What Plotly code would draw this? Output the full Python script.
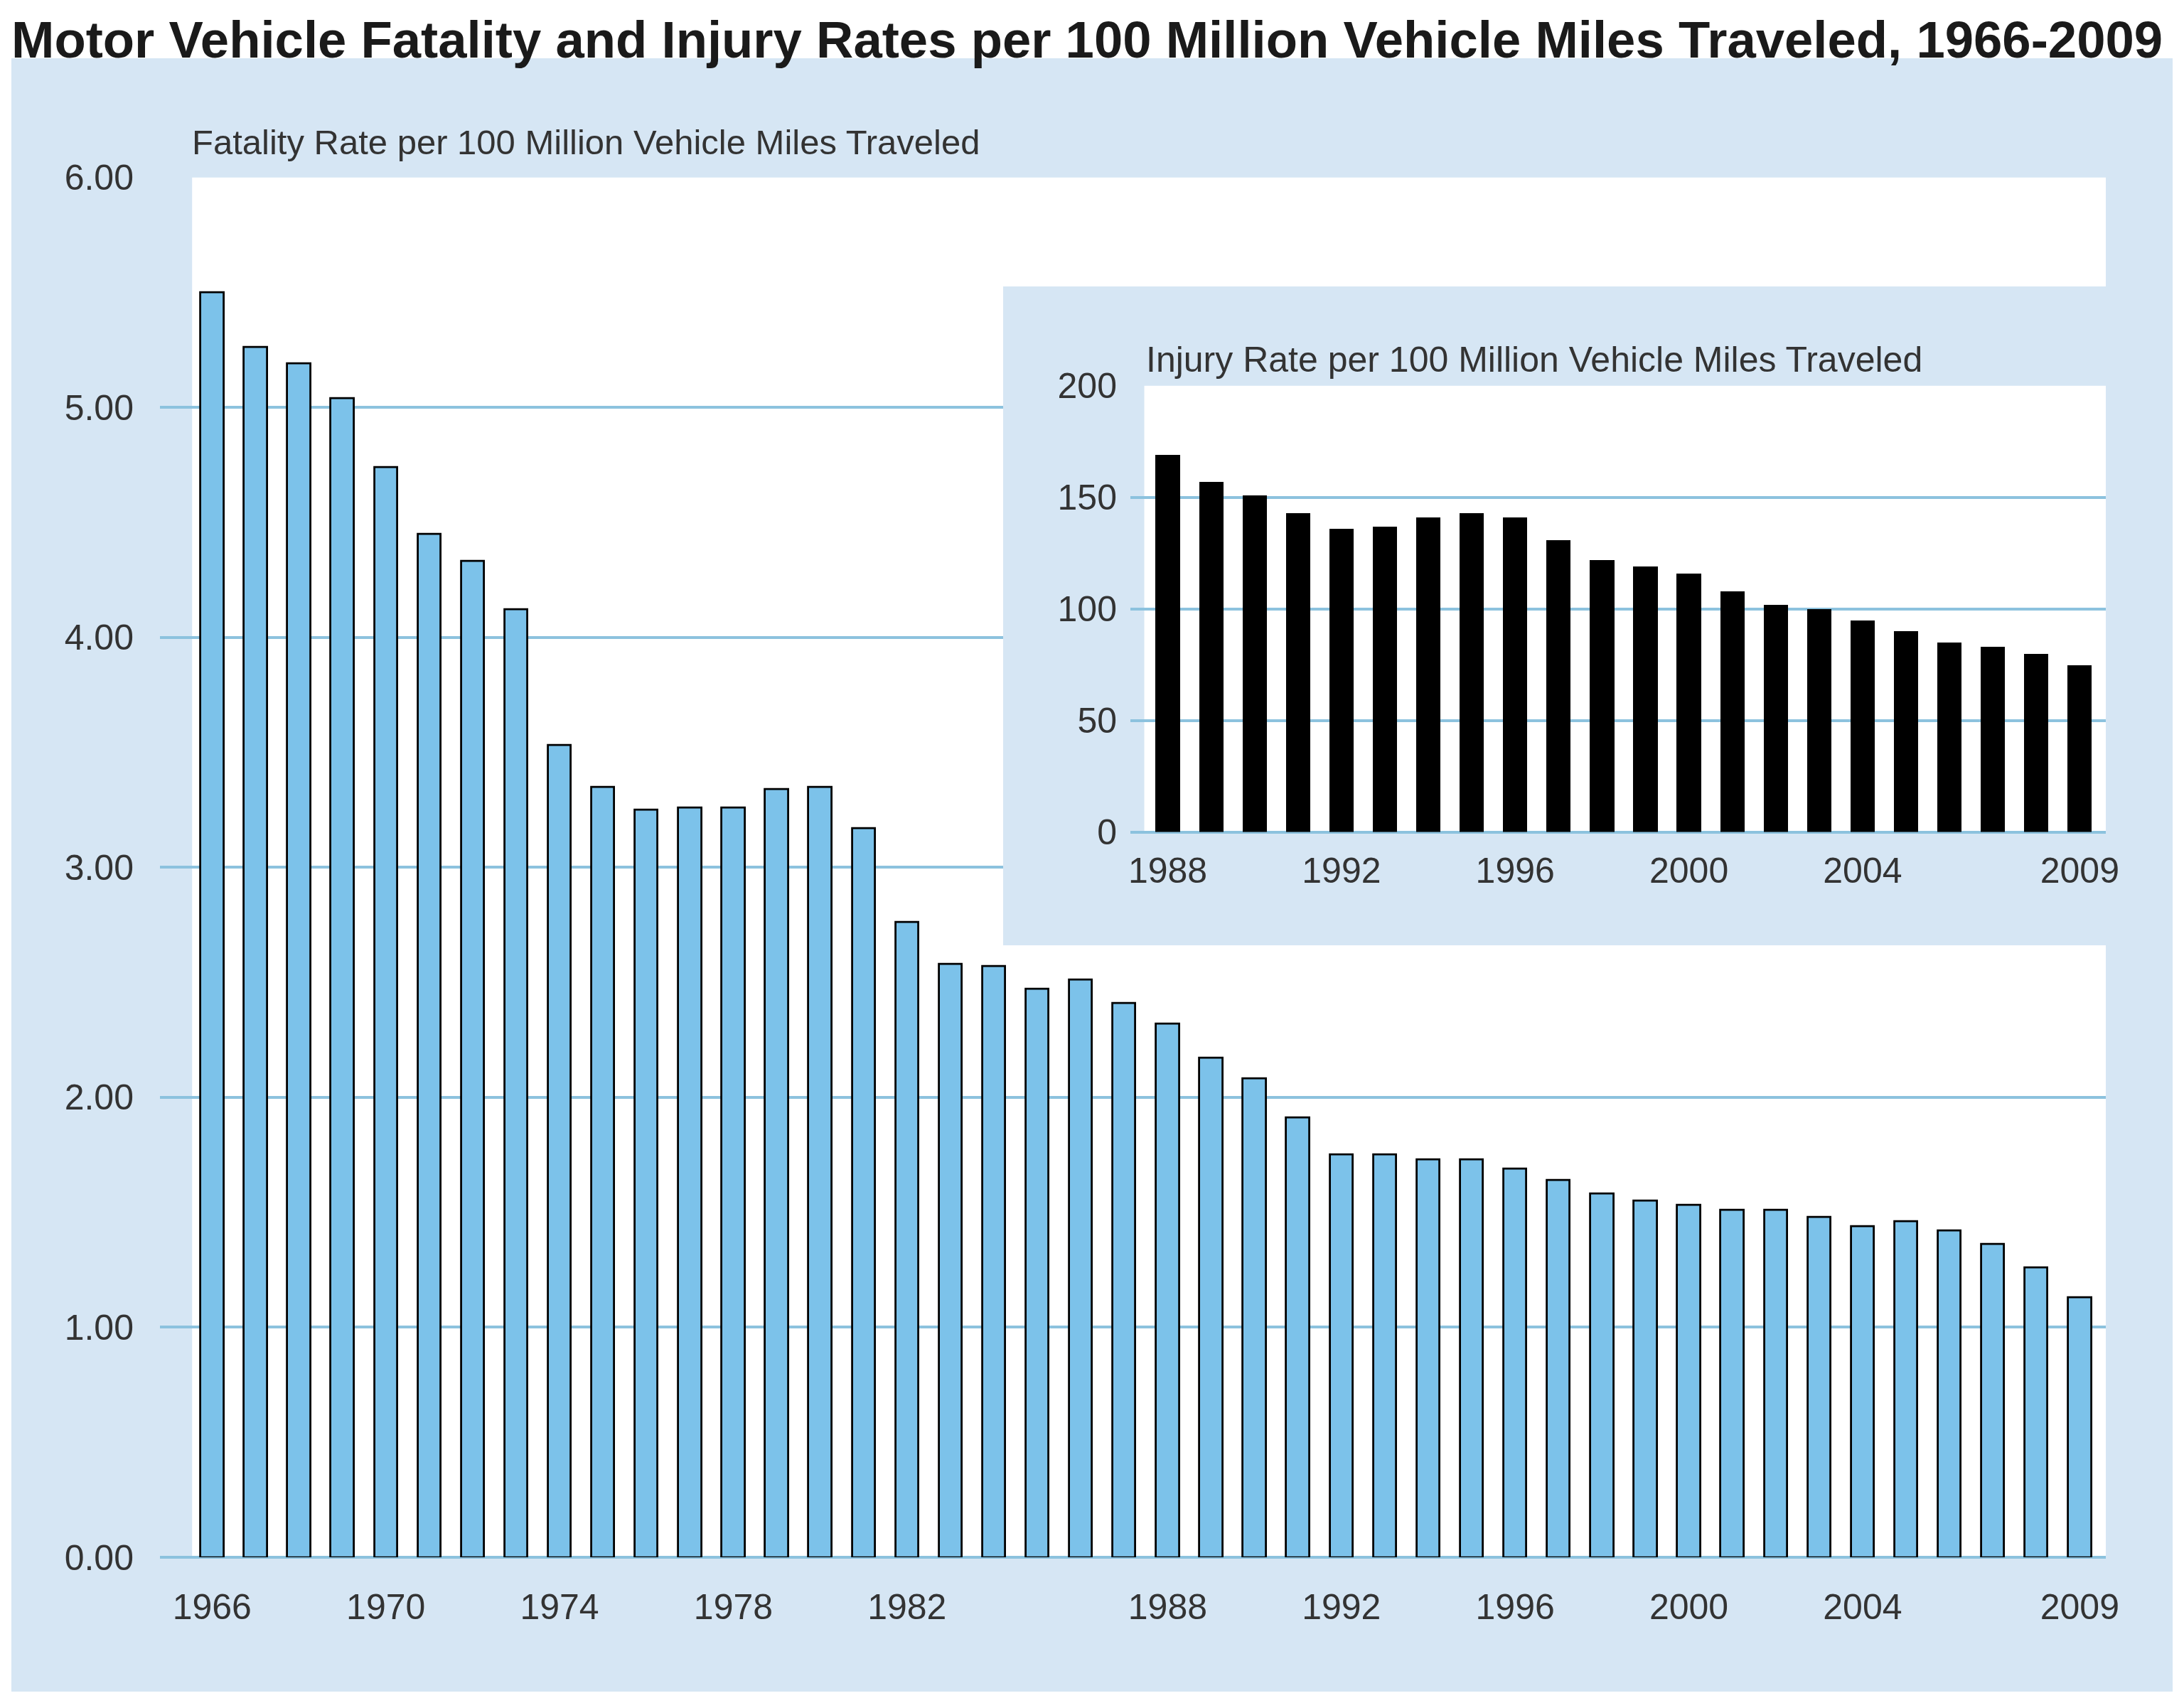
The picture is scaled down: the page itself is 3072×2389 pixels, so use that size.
# Motor vehicle fatality / injury rates chart with injury inset

import plotly.graph_objects as go

W = 3072
H = 2389
SHIFT = 8  # page margin of the html body

fatality_years = list(range(1966, 2010))
fatality_rate = [5.50, 5.26, 5.19, 5.04, 4.74, 4.45, 4.33, 4.12, 3.53, 3.35,
                 3.25, 3.26, 3.26, 3.34, 3.35, 3.17, 2.76, 2.58, 2.57, 2.47,
                 2.51, 2.41, 2.32, 2.17, 2.08, 1.91, 1.75, 1.75, 1.73, 1.73,
                 1.69, 1.64, 1.58, 1.55, 1.53, 1.51, 1.51, 1.48, 1.44, 1.46,
                 1.42, 1.36, 1.26, 1.13]

injury_years = list(range(1988, 2010))
injury_rate = [169, 157, 151, 143, 136, 137, 141, 143, 141, 131, 122,
               119, 116, 108, 102, 100, 95, 90, 85, 83, 80, 75]

main_xticks = [1966, 1970, 1974, 1978, 1982, 1988, 1992, 1996, 2000, 2004, 2009]
inset_xticks = [1988, 1992, 1996, 2000, 2004, 2009]
fatality_yticks = [0, 1, 2, 3, 4, 5, 6]
injury_yticks = [0, 50, 100, 150, 200]

title_text = "Motor Vehicle Fatality and Injury Rates per 100 Million Vehicle Miles Traveled, 1966-2009"
fatality_title = "Fatality Rate per 100 Million Vehicle Miles Traveled"
injury_title = "Injury Rate per 100 Million Vehicle Miles Traveled"

# colours
panel_col = "#d6e6f4"
grid_col = "#8cc2de"
bar_col = "#7cc2ea"
text_col = "#333333"
font_fam = "Liberation Sans, Arial, sans-serif"


def px_x(p):
    return (p - SHIFT) / W


def px_y(p):
    return 1 - (p - SHIFT) / H


fig = go.Figure()

fig.add_trace(go.Bar(x=fatality_years, y=fatality_rate, width=0.53,
                     marker=dict(color=bar_col, line=dict(color="black", width=2.8)),
                     showlegend=False, hoverinfo="x+y"))

# empty trace so the inset panel subplot exists (its background hides the main grid)
fig.add_trace(go.Scatter(x=[], y=[], xaxis="x2", yaxis="y2", showlegend=False,
                         hoverinfo="skip"))

fig.add_trace(go.Bar(x=injury_years, y=injury_rate, width=0.56,
                     xaxis="x3", yaxis="y3",
                     marker=dict(color="black", line=dict(width=0)),
                     showlegend=False, hoverinfo="x+y"))

main_x_range = [1964.8, 2009.6]
inset_x_range = [1987.14, 2009.6]

axis_font = dict(family=font_fam, size=50, color=text_col)
hidden = dict(showgrid=False, zeroline=False, showline=False, showticklabels=False,
              ticks="", range=[0, 1], fixedrange=True, automargin=False)

fig.update_layout(
    width=W, height=H, autosize=False,
    margin=dict(l=0, r=0, t=0, b=0, pad=0, autoexpand=False),
    paper_bgcolor="white",
    plot_bgcolor=panel_col,
    bargap=0,
    title=dict(text=title_text, x=px_x(16), xanchor="left", y=px_y(56), yanchor="middle",
               automargin=False,
               font=dict(family=font_fam, size=72.5, color="#1a1a1a", weight="bold")),
    xaxis=dict(domain=[px_x(225), px_x(2962)], range=main_x_range,
               tickmode="array", tickvals=main_xticks, showgrid=False, zeroline=False,
               showline=False, ticks="", tickfont=axis_font, ticklabelstandoff=36,
               anchor="y", fixedrange=True, automargin=False),
    yaxis=dict(domain=[px_y(2191), px_y(249.5)], range=[0, 6],
               tickmode="array", tickvals=fatality_yticks, tickformat=".2f",
               showgrid=True, gridcolor=grid_col, gridwidth=4,
               zeroline=True, zerolinecolor=grid_col, zerolinewidth=4,
               showline=False, ticks="", tickfont=axis_font, ticklabelstandoff=36,
               anchor="x", fixedrange=True, automargin=False),
    # inset panel background
    xaxis2=dict(domain=[px_x(1411), px_x(2964)], anchor="y2", **hidden),
    yaxis2=dict(domain=[px_y(1330), px_y(403)], anchor="x2", **hidden),
    # inset chart
    xaxis3=dict(domain=[px_x(1590), px_x(2962)], range=inset_x_range,
                tickmode="array", tickvals=inset_xticks, showgrid=False, zeroline=False,
                showline=False, ticks="", tickfont=axis_font, ticklabelstandoff=20,
                anchor="y3", fixedrange=True, automargin=False),
    yaxis3=dict(domain=[px_y(1170.5), px_y(542.5)], range=[0, 200],
                tickmode="array", tickvals=injury_yticks,
                showgrid=True, gridcolor=grid_col, gridwidth=4,
                zeroline=True, zerolinecolor=grid_col, zerolinewidth=4,
                showline=False, ticks="", tickfont=axis_font, ticklabelstandoff=18,
                anchor="x3", fixedrange=True, automargin=False),
)

# outer light blue panel
fig.add_shape(type="rect", xref="paper", yref="paper",
              x0=px_x(16), x1=px_x(3056), y0=px_y(2380), y1=px_y(82),
              fillcolor=panel_col, line=dict(width=0), layer="below")

# white plotting areas
fig.add_shape(type="rect", xref="x", yref="y",
              x0=fatality_years[0] - 0.46, x1=main_x_range[1],
              y0=fatality_yticks[0], y1=fatality_yticks[-1],
              fillcolor="white", line=dict(width=0), layer="below")
fig.add_shape(type="rect", xref="x3", yref="y3",
              x0=injury_years[0] - 0.54, x1=inset_x_range[1],
              y0=injury_yticks[0], y1=injury_yticks[-1],
              fillcolor="white", line=dict(width=0), layer="below")

# chart sub-titles
fig.add_annotation(text=fatality_title, xref="paper", yref="paper",
                   x=px_x(268), y=px_y(200), xanchor="left", yanchor="middle",
                   showarrow=False, font=dict(family=font_fam, size=49, color=text_col))
fig.add_annotation(text=injury_title, xref="paper", yref="paper",
                   x=px_x(1610), y=px_y(506), xanchor="left", yanchor="middle",
                   showarrow=False, font=dict(family=font_fam, size=50, color=text_col))

fig.write_html("out.html", config={"displayModeBar": False})
